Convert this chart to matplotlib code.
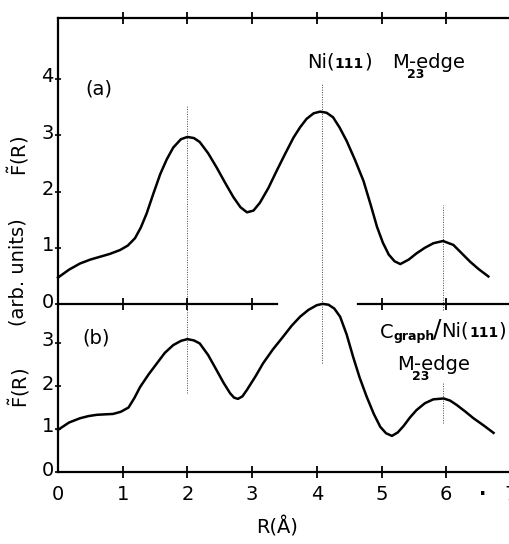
import matplotlib.pyplot as plt
import matplotlib.transforms as mtransforms

# panel (a): Ni(111) M23-edge
r_a = [0, 0.17, 0.34, 0.5, 0.65, 0.8, 0.96, 1.08, 1.19, 1.28, 1.37, 1.47, 1.58, 1.68, 1.78,
       1.9, 2.0, 2.1, 2.19, 2.32, 2.45, 2.58, 2.71, 2.82, 2.92, 3.02, 3.12, 3.25, 3.38, 3.51,
       3.64, 3.74, 3.84, 3.95, 4.05, 4.15, 4.25, 4.35, 4.46, 4.59, 4.72, 4.83, 4.93, 5.02,
       5.11, 5.2, 5.29, 5.42, 5.54, 5.67, 5.80, 5.95, 6.11, 6.24, 6.37, 6.5, 6.65]
f_a = [0.47, 0.61, 0.72, 0.79, 0.84, 0.89, 0.96, 1.04, 1.17, 1.36, 1.61, 1.95, 2.31, 2.57, 2.78,
       2.93, 2.97, 2.95, 2.88, 2.68, 2.43, 2.16, 1.90, 1.72, 1.63, 1.66, 1.80, 2.06, 2.37, 2.67,
       2.96, 3.14, 3.29, 3.39, 3.42, 3.40, 3.32, 3.14, 2.90, 2.56, 2.19, 1.77, 1.37, 1.09,
       0.88, 0.76, 0.71, 0.79, 0.90, 1.00, 1.08, 1.12, 1.05, 0.90, 0.75, 0.62, 0.49]

# panel (b): C_graph/Ni(111) M23-edge
r_b = [0, 0.17, 0.34, 0.47, 0.6, 0.72, 0.85, 0.97, 1.09, 1.18, 1.27, 1.4, 1.53, 1.65, 1.78,
       1.9, 2.0, 2.1, 2.19, 2.32, 2.45, 2.56, 2.66, 2.72, 2.78, 2.85, 2.92, 3.05, 3.17, 3.32,
       3.48, 3.61, 3.74, 3.87, 4.0, 4.09, 4.18, 4.27, 4.36, 4.46, 4.56, 4.66, 4.77, 4.88,
       4.98, 5.07, 5.16, 5.25, 5.34, 5.44, 5.54, 5.67, 5.80, 5.96, 6.06, 6.16, 6.29, 6.42,
       6.58, 6.73]
f_b = [0.98, 1.15, 1.25, 1.30, 1.33, 1.34, 1.35, 1.40, 1.50, 1.72, 1.98, 2.27, 2.53, 2.77, 2.95,
       3.05, 3.09, 3.06, 2.99, 2.72, 2.37, 2.07, 1.83, 1.73, 1.70, 1.76, 1.91, 2.22, 2.53, 2.85,
       3.15, 3.40, 3.61, 3.77, 3.88, 3.91, 3.89, 3.80, 3.61, 3.20, 2.68, 2.20, 1.75, 1.35,
       1.05, 0.90, 0.84, 0.92, 1.07, 1.27, 1.44, 1.60, 1.69, 1.71, 1.66, 1.56, 1.41, 1.25,
       1.08, 0.91]

# peak markers (dotted): x, ymin, ymax per panel
peaks_a = [(2.0, 0.0, 3.54), (4.08, 0.0, 3.93), (5.95, -0.1, 1.76)]
peaks_b = [(2.0, 1.84, 3.91), (4.08, 2.53, 3.91), (5.95, 1.14, 2.07)]

x_ticks = [1, 2, 3, 4, 5, 6]
mid_ticks = [1, 2, 3, 5, 6]

plt.rcParams['font.family'] = ['DejaVu Sans']
plt.rcParams['mathtext.fontset'] = 'dejavusans'
FS = 14

fig = plt.figure(figsize=(5.09, 5.44), dpi=100)
W, H = 509, 544
x0, x7 = 58, 511
ax_a = fig.add_axes([x0 / W, 1 - 304 / H, (x7 - x0) / W, (304 - 18) / H])
ax_b = fig.add_axes([x0 / W, 1 - 472 / H, (x7 - x0) / W, (472 - 304) / H])

ax_a.set_ylim(0, (304 - 18) / 56.25)
ax_b.set_ylim(0, (472 - 304) / 43.0)
for ax in (ax_a, ax_b):
    ax.set_xlim(0, 7)
    ax.spines['right'].set_visible(False)
    ax.spines['left'].set_linewidth(1.6)
    ax.tick_params(axis='y', direction='inout', length=4, width=1.2, labelsize=FS, pad=1)
    ax.patch.set_alpha(0)

ax_a.spines['bottom'].set_visible(False)
ax_a.spines['top'].set_linewidth(1.6)
ax_a.set_xticks(x_ticks)
ax_a.tick_params(axis='x', top=True, bottom=False, labelbottom=False,
                 direction='inout', length=8, width=1.3)
ax_a.set_yticks([0, 1, 2, 3, 4])

ax_b.spines['top'].set_visible(False)
ax_b.spines['bottom'].set_linewidth(1.6)
ax_b.set_xticks([0] + x_ticks + [7])
ax_b.set_xticklabels(['0', '1', '2', '3', '4', '5', '6', '7'])
ax_b.tick_params(axis='x', direction='inout', length=8, width=1.3, labelsize=FS, pad=5)
ax_b.set_yticks([0, 1, 2, 3])
ax_b.xaxis.get_major_ticks()[0].tick1line.set_visible(False)

# lift y tick labels a bit above their ticks
lift = mtransforms.ScaledTranslation(0, 4 / 100, fig.dpi_scale_trans)
for ax in (ax_a, ax_b):
    for lab in ax.get_yticklabels():
        lab.set_transform(lab.get_transform() + lift)

# broken middle line with crossing ticks
ytop = ax_b.get_ylim()[1]
ax_b.plot([0, 3.38], [ytop, ytop], color='black', lw=1.6, clip_on=False)
ax_b.plot([4.64, 7.05], [ytop, ytop], color='black', lw=1.6, clip_on=False)
ax_b.plot(mid_ticks, [ytop] * len(mid_ticks), ls='none', marker='|', ms=8, mew=1.3,
          color='black', clip_on=False)

ax_a.plot(r_a, f_a, color='black', lw=1.8, clip_on=False, zorder=3)
ax_b.plot(r_b, f_b, color='black', lw=1.8, clip_on=False, zorder=3)

for x, lo, hi in peaks_a:
    ax_a.plot([x, x], [lo, hi], color='#444444', lw=0.7, ls=(0, (1, 1.5)), clip_on=False)
for x, lo, hi in peaks_b:
    ax_b.plot([x, x], [lo, hi], color='#444444', lw=0.7, ls=(0, (1, 1.5)), clip_on=False)

# panel labels
ax_a.text(0.42, 3.72, '(a)', fontsize=FS)
ax_b.text(0.38, 3.0, '(b)', fontsize=FS)

# Ni(111)  M23-edge
tn = ax_a.text(3.85, 4.2, 'Ni(', fontsize=FS, va='baseline')
t1 = ax_a.annotate('111', xy=(1, 0), xycoords=tn, xytext=(0, 0.6),
                   textcoords='offset points', fontsize=FS - 4, fontweight='bold', va='bottom')
ax_a.annotate(')', xy=(1, 0), xycoords=t1, xytext=(0, -0.6),
              textcoords='offset points', fontsize=FS, va='bottom')
tm = ax_a.text(5.16, 4.2, 'M', fontsize=FS, va='baseline')
ax_a.annotate('-edge', xy=(1, 0), xycoords=tm, fontsize=FS, va='bottom')
ax_a.annotate('23', xy=(1, 0), xycoords=tm, xytext=(-1, 2.5), textcoords='offset points',
              fontsize=FS - 5, fontweight='bold', ha='left', va='top')

# C_graph/Ni(111)  M23-edge
tc = ax_b.text(4.97, 3.12, 'C', fontsize=FS, va='baseline')
tg = ax_b.annotate('graph', xy=(1, 0), xycoords=tc, xytext=(0, -1),
                   textcoords='offset points', fontsize=FS - 5, fontweight='bold', va='bottom')
ts = ax_b.annotate('/', xy=(1, 0), xycoords=tg, xytext=(-1, 1),
                   textcoords='offset points', fontsize=FS + 4, va='bottom')
tn2 = ax_b.annotate('Ni(', xy=(1, 0), xycoords=ts, xytext=(0, 1),
                    textcoords='offset points', fontsize=FS, va='bottom')
t111 = ax_b.annotate('111', xy=(1, 0), xycoords=tn2, xytext=(0, 0.6),
                     textcoords='offset points', fontsize=FS - 4, fontweight='bold', va='bottom')
ax_b.annotate(')', xy=(1, 0), xycoords=t111, xytext=(0, -0.6),
              textcoords='offset points', fontsize=FS, va='bottom')
tm2 = ax_b.text(5.24, 2.38, 'M', fontsize=FS, va='baseline')
ax_b.annotate('-edge', xy=(1, 0), xycoords=tm2, fontsize=FS, va='bottom')
ax_b.annotate('23', xy=(1, 0), xycoords=tm2, xytext=(-1, 2.5), textcoords='offset points',
              fontsize=FS - 5, fontweight='bold', ha='left', va='top')

# axis labels
ftil = r'$\tilde{\mathrm{F}}$(R)'
fig.text(18 / W, 1 - 156 / H, ftil, rotation=90, fontsize=FS, ha='center', va='center')
fig.text(18 / W, 1 - 272 / H, '(arb. units)', rotation=90, fontsize=FS,
         ha='center', va='center')
fig.text(19 / W, 1 - 388 / H, ftil, rotation=90, fontsize=FS, ha='center', va='center')
fig.text(277 / W, 1 - 527 / H, 'R(Å)', fontsize=FS, ha='center', va='center')
ax_b.text(6.57, -0.52, '·', fontsize=FS, ha='center', va='center', fontweight='bold')

fig.savefig('out.png', dpi=100)
